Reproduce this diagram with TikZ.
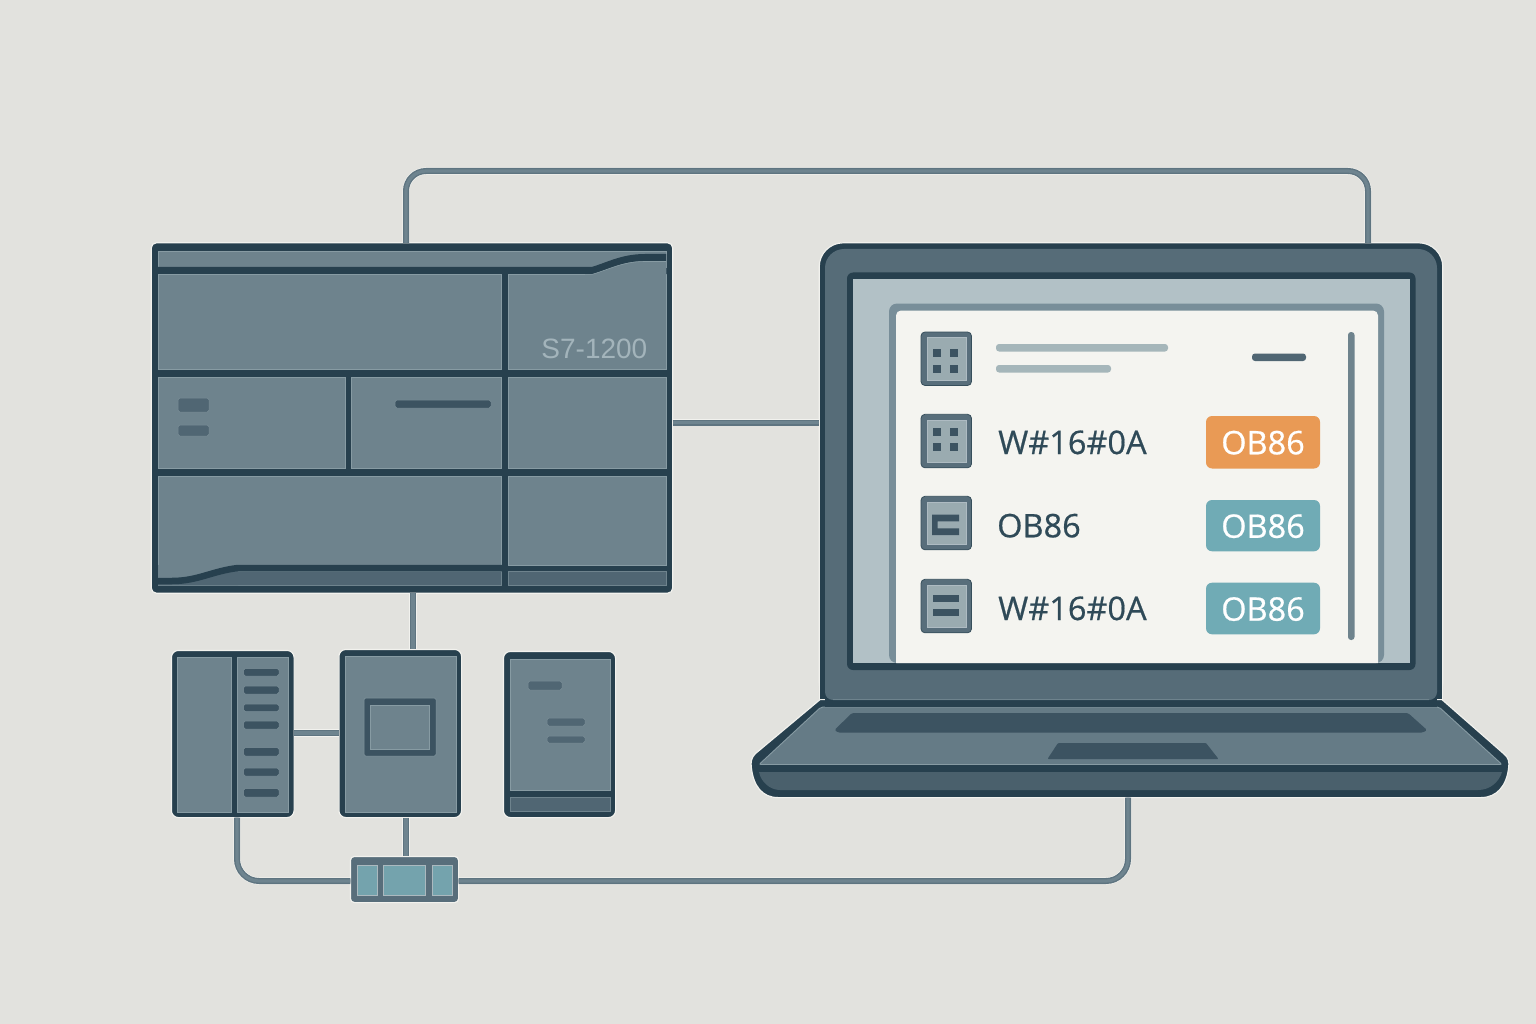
\documentclass[tikz,border=0pt]{standalone}
\usepackage{fontspec}
\setmainfont{Open Sans}
\newfontfamily\uifont{Open Sans}[FakeBold=0.6]
\newfontfamily\platefont{Liberation Sans}
\definecolor{paper}{HTML}{E2E2DE}
\definecolor{halo}{HTML}{F2F2EE}
\definecolor{ink}{HTML}{27404E}
\definecolor{panel}{HTML}{6E838D}
\definecolor{panelEdge}{HTML}{879BA3}
\definecolor{slot}{HTML}{3C5361}
\definecolor{strip}{HTML}{506673}
\definecolor{lidFill}{HTML}{566C78}
\definecolor{deckFill}{HTML}{657B86}
\definecolor{frontFill}{HTML}{4A606C}
\definecolor{wireEdge}{HTML}{5E7480}
\definecolor{wireCore}{HTML}{6E848F}
\definecolor{screenBack}{HTML}{B2C1C6}
\definecolor{sheet}{HTML}{F4F4F0}
\definecolor{sheetEdge}{HTML}{788E99}
\definecolor{iconFill}{HTML}{9AABB0}
\definecolor{iconEdge}{HTML}{586E7B}
\definecolor{textDark}{HTML}{2F4A58}
\definecolor{rule}{HTML}{A5B6BA}
\definecolor{platetext}{HTML}{A3B4BB}
\definecolor{amber}{HTML}{E99A55}
\definecolor{teal}{HTML}{70ABB5}
\definecolor{tealCell}{HTML}{74A3AD}

\tikzset{
  x=1pt, y=-1pt,
  blockbase/.style={rectangle, inner sep=0pt, outer sep=0pt},
  shell/.style={blockbase, fill=ink, draw=halo, line width=1.2pt, rounded corners=#1},
  shell/.default=6pt,
  facet/.style={blockbase, fill=panel, draw=panelEdge, line width=0.6pt},
  lowstrip/.style={blockbase, fill=strip, draw=panel, line width=0.6pt},
  pill/.style={blockbase, fill=#1, draw=panel!50!panelEdge, line width=0.5pt, rounded corners=1.8pt},
  pill/.default=slot,
  bar/.style={blockbase, fill=#1, rounded corners=3pt},
  wire/.style={line width=6pt, draw=wireEdge, line cap=butt,
    preaction={draw=halo, line width=7.2pt},
    postaction={draw=wireCore, line width=3.2pt}},
  iconouter/.style={blockbase, fill=iconEdge, draw=ink!70!iconEdge, line width=0.8pt, rounded corners=4pt},
  iconinner/.style={blockbase, fill=iconFill, draw=sheetEdge!60!white, line width=0.5pt},
  glyph/.style={blockbase, fill=slot},
  badge/.style={blockbase, fill=#1, rounded corners=6pt},
  rowtext/.style={anchor=base west, inner sep=0pt, text=textDark, font=\uifont\fontsize{32.5}{32.5}\selectfont},
  badgetext/.style={anchor=base, inner sep=0pt, text=white, font=\uifont\fontsize{32.5}{32.5}\selectfont},
}

% Places a named rectangular node from its left, top, right and bottom edges.
\newcommand\block[6]{%
  \pgfmathsetmacro\blockw{(#4)-(#2)}\pgfmathsetmacro\blockh{(#5)-(#3)}%
  \node[#6, minimum width=\blockw pt, minimum height=\blockh pt] (#1) at ({(#2+#4)/2},{(#3+#5)/2}) {};}

% Framed icon tile on the screen, given by name and top edge.
\newcommand\icontile[2]{%
  \block{#1o}{921}{#2}{971.5}{#2+53.5}{iconouter}
  \block{#1i}{927}{#2+5.7}{966}{#2+48}{iconinner}}

% Four-square glyph inside an icon tile, given by the two row tops.
\newcommand\quadglyph[3]{%
  \block{#1a}{933}{#2}{941}{#2+8}{glyph}
  \block{#1b}{950}{#2}{958}{#2+8}{glyph}
  \block{#1c}{933}{#3}{941}{#3+8}{glyph}
  \block{#1d}{950}{#3}{958}{#3+8}{glyph}}

\begin{document}
\begin{tikzpicture}
\useasboundingbox (0,0) rectangle (1536,1024);
\fill[paper] (0,0) rectangle (1536,1024);

% Controller housing
\block{plc}{151.3}{242.8}{672.7}{593.2}{shell=5pt}
\block{plcTopBand}{158}{251}{666}{267}{facet}
\block{plcA}{158}{274}{501.5}{369.5}{facet}
\block{plcB}{508}{274}{666}{369.5}{facet}
\block{plcC}{158}{377}{345}{468.5}{facet}
\block{plcD}{351.5}{377}{501.5}{468.5}{facet}
\block{plcE}{508}{377}{666}{468.5}{facet}
\block{plcF}{158}{476}{501.5}{571}{facet}
\block{plcG}{508}{476}{666}{565}{facet}
\block{plcStripA}{158}{571}{501.5}{585}{lowstrip}
\block{plcStripB}{508}{571}{666}{585}{lowstrip}
\draw[ink, line width=6.5pt] (501.5,568) -- (240,568);
% Swept accents at the top right and bottom left of the housing
\fill[panel] (585,266) -- (592,266) .. controls (608,262) and (622,254) .. (645,254) -- (666.3,254) -- (666.3,275) -- (585,275) -- cycle;
\fill[panel] (158,565) -- (236,565) -- (236,564) .. controls (212,570) and (198,578) .. (172,578) -- (158,578) -- cycle;
\fill[strip] (158,585) -- (158,584) -- (172,584) .. controls (198,584) and (212,574) .. (238,571) -- (238,585) -- cycle;
\draw[ink, line width=6.5pt] (158,581) -- (172,581) .. controls (198,581) and (212,571) .. (238,568) -- (503,568);
\draw[ink, line width=7pt] (158,270.5) -- (592,270.5) .. controls (608,266) and (622,257.5) .. (645,257.5) -- (666,257.5);
\draw[panelEdge, line width=0.6pt] (508,274.4) -- (592,274.4) .. controls (608,270) and (622,261.5) .. (645,261.5) -- (666,261.5);
\node[anchor=base east, inner sep=0pt, text=platetext, font=\platefont\fontsize{28}{28}\selectfont] (plate) at (647.5,358.5) {S7-1200};
\block{plcLedA}{178}{398}{209}{412}{pill=strip}
\block{plcLedB}{178}{425}{209}{436}{pill=strip}
\block{plcSlot}{395}{400}{491}{408}{pill}

% Input/output module
\block{modA}{171.4}{650.4}{294.1}{817.6}{shell=7pt}
\block{modAl}{177.5}{657}{231}{812}{facet}
\block{modAr}{237}{657}{288}{812}{facet}
\block{modAs1}{243.5}{668.5}{279}{676}{pill}
\block{modAs2}{243.5}{686}{279}{694}{pill}
\block{modAs3}{243.5}{704}{279}{711.5}{pill}
\block{modAs4}{243.5}{721}{279}{729}{pill}
\block{modAs5}{243.5}{747.5}{279}{756}{pill}
\block{modAs6}{243.5}{768}{279}{776}{pill}
\block{modAs7}{243.5}{788.5}{279}{797}{pill}

% Display module
\block{modB}{338.9}{649.4}{461.6}{817.6}{shell=7pt}
\block{modBi}{345}{656}{456}{812}{facet}
\block{modBs}{364}{698}{436}{756}{blockbase, fill=slot, draw=panelEdge, line width=0.5pt, rounded corners=1.5pt}
\block{modBw}{370}{705}{429.5}{749}{facet}

% Plain module
\block{modC}{503.4}{651.4}{615.6}{817.6}{shell=7pt}
\block{modCi}{510}{659}{610}{790}{facet}
\block{modCf}{510}{797}{610}{811}{lowstrip}
\block{modCs1}{528}{681}{562}{690}{pill=strip}
\block{modCs2}{547}{718}{585}{726}{pill=strip}
\block{modCs3}{547}{736}{585}{743}{pill=strip}

% Network switch
\block{hub}{350.4}{856.4}{458.6}{902.6}{blockbase, fill=iconEdge, draw=halo, line width=1.2pt, rounded corners=4pt}
\block{hubA}{357}{865}{377}{895}{blockbase, fill=tealCell, draw=panelEdge!70!white, line width=0.7pt}
\block{hubB}{383}{865}{425}{895}{blockbase, fill=tealCell, draw=panelEdge!70!white, line width=0.7pt}
\block{hubC}{432}{865}{452}{895}{blockbase, fill=tealCell, draw=panelEdge!70!white, line width=0.7pt}

% Laptop lid shell with squared lower corners, then the base in front of it
\block{lid}{819.2}{242.8}{1442.8}{706}{shell=24pt}
\filldraw[fill=ink, draw=none] (818.6,650) rectangle (1443.4,702);
\draw[halo, line width=1.2pt] (819.2,650) -- (819.2,700) (1442.8,650) -- (1442.8,700);
\filldraw[fill=ink, draw=halo, line width=1.2pt] (820,699.6) -- (1442,699.6) -- (1503.6,753.6) .. controls (1508.6,757.6) and (1509.6,762) .. (1508.6,768) .. controls (1506.6,785.6) and (1497,797.6) .. (1481,797.6) -- (778,797.6) .. controls (762,797.6) and (753.4,785.6) .. (751.4,768) .. controls (750.4,762) and (751.4,757.6) .. (755.4,753.6) -- cycle;
\filldraw[fill=deckFill, draw=panelEdge, line width=0.9pt, rounded corners=2pt] (821,707) -- (1439,707) -- (1502,764.5) -- (759,764.5) -- cycle;
\fill[frontFill] (759,772) -- (1502,772) .. controls (1499,782) and (1490,790) .. (1478,790) -- (780,790) .. controls (770,790) and (761,782) .. (759,772) -- cycle;
\fill[slot, rounded corners=1.5pt] (852,713) -- (1408,713) -- (1427,730) -- (1423,732.5) -- (838,732.5) -- (834.5,730) -- cycle;
\fill[slot, rounded corners=1pt] (1058,743) -- (1206,743) -- (1218.5,759) -- (1047.5,759) -- cycle;

% Lid face and screen
\fill[ink] (825,690) rectangle (1437,706.5);
\fill[lidFill] (825,600) [rounded corners=19pt] -- (825,249) -- (1437,249) [rounded corners=8pt] -- (1437,600) -- (1437,700) -- (825,700) -- cycle;
\draw[panel, line width=0.8pt] (833,699.5) -- (1429,699.5);
\block{bezel}{847}{272.5}{1415.5}{670}{blockbase, fill=ink, rounded corners=6pt}
\block{screen}{853}{279}{1409.5}{663}{blockbase, fill=screenBack}
\fill[sheetEdge, rounded corners=8pt] (889,663) -- (889,303.5) -- (1384,303.5) -- (1384,663) -- cycle;
\fill[sheet] (896,663) [rounded corners=5pt] -- (896,310.5) -- (1378,310.5) [sharp corners] -- (1378,663) -- cycle;

% Screen contents
\icontile{tileA}{332}
\quadglyph{tileAq}{349}{365}
\block{headA}{996}{344}{1168}{351.5}{bar=rule}
\block{headB}{996}{365}{1111}{372.5}{bar=rule}
\block{headDash}{1252}{353.5}{1306}{361}{bar=strip}
\block{scroll}{1348}{332}{1354.5}{640}{bar=panel}

\icontile{tileB}{414.3}
\quadglyph{tileBq}{428}{443.3}
\node[rowtext] (rowA) at (998,454) {W\#16\#0A};
\block{badgeA}{1206}{416}{1320}{468.5}{badge=amber}
\node[badgetext] (badgeAt) at (1263,454.3) {OB86};

\icontile{tileC}{496.3}
\fill[slot] (932,514.7) -- (959,514.7) -- (959,521.3) -- (937.5,521.3) -- (937.5,528.3) -- (959,528.3) -- (959,535) -- (932,535) -- cycle;
\node[rowtext] (rowB) at (997,537.3) {OB86};
\block{badgeB}{1206}{500}{1320}{551.3}{badge=teal}
\node[badgetext] (badgeBt) at (1263,537.8) {OB86};

\icontile{tileD}{579.3}
\block{tileDa}{933.3}{595}{959}{601.7}{glyph}
\block{tileDb}{933.3}{609.3}{959}{615.7}{glyph}
\node[rowtext] (rowC) at (998,620) {W\#16\#0A};
\block{badgeC}{1206}{582.7}{1320}{634.3}{badge=teal}
\node[badgetext] (badgeCt) at (1263,620.7) {OB86};

% Cable routes and the anchor points they run through
\coordinate (loopL) at (406,171);
\coordinate (loopR) at (1368,171);
\coordinate (sideLevel) at (0,422.5);
\coordinate (dropX) at (413,0);
\coordinate (linkLevel) at (0,733);
\coordinate (hubX) at (406,0);
\coordinate (ioX) at (237,0);
\coordinate (busLevel) at (0,881);
\coordinate (lapFoot) at (1128,797.6);

\draw[wire, rounded corners=20pt] (plc.north -| loopL) -- (loopL) -- (loopR) -- (lid.north -| loopR);
\draw[wire] (plc.east |- sideLevel) -- (lid.west |- sideLevel);
\draw[wire] (plc.south -| dropX) -- (modB.north -| dropX);
\draw[wire] (modA.east |- linkLevel) -- (modB.west |- linkLevel);
\draw[wire] (modB.south -| hubX) -- (hub.north -| hubX);
\draw[wire, rounded corners=22pt] (modA.south -| ioX) |- (hub.west |- busLevel);
\draw[wire, rounded corners=22pt] (hub.east |- busLevel) -| (lapFoot);
\end{tikzpicture}
\end{document}
